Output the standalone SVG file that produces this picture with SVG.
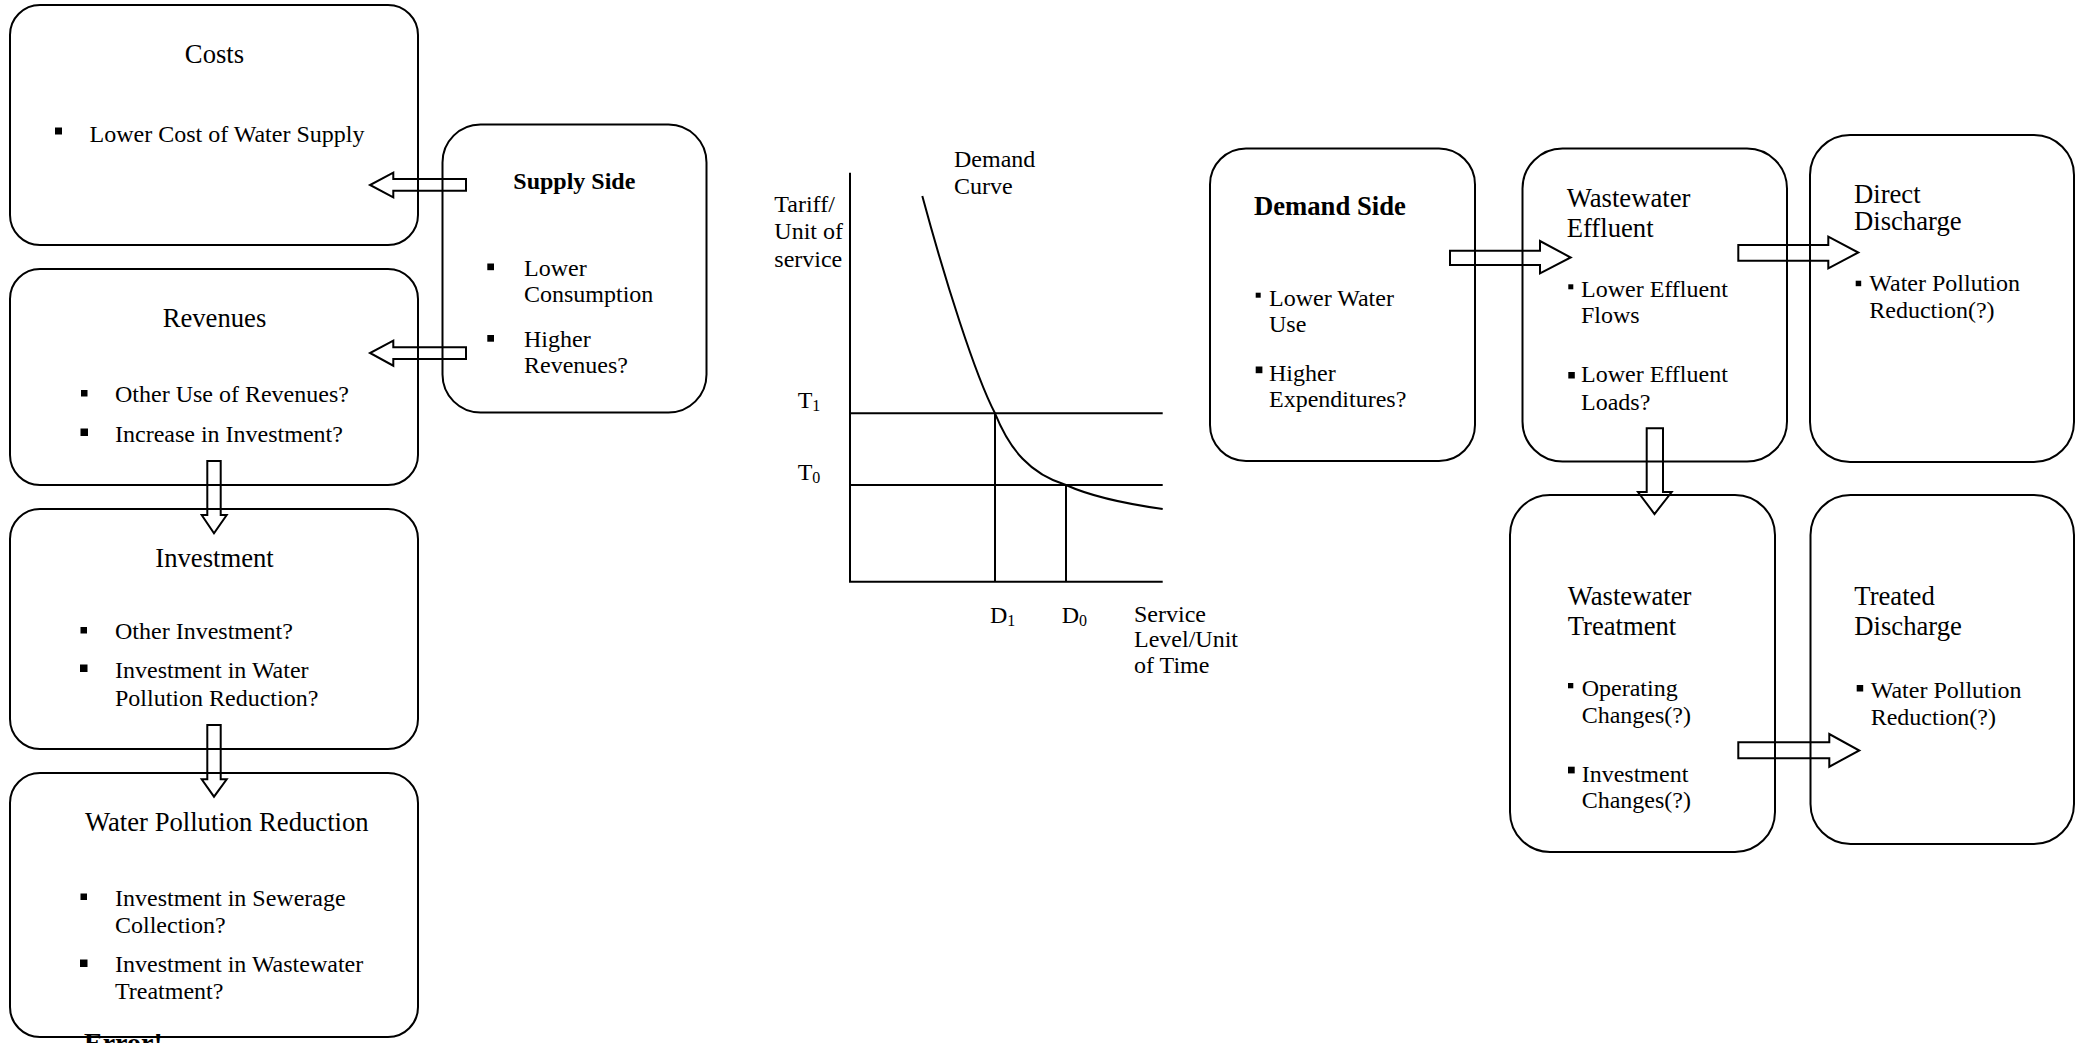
<svg xmlns="http://www.w3.org/2000/svg" width="2083" height="1043" viewBox="0 0 2083 1043">
<style>
.box{fill:none;stroke:#000;stroke-width:2}
.arr{fill:#fff;stroke:#000;stroke-width:2;stroke-linejoin:miter}
.ln{fill:none;stroke:#000;stroke-width:2}
text{font-family:"Liberation Serif","Times New Roman",serif;font-size:24px;fill:#000}
.ti{font-size:26.67px}
.bd{font-weight:bold}
.mid{text-anchor:middle}
.sub{font-size:16px}
</style>
<rect width="2083" height="1043" fill="#fff"/>
<g id="connectors">
<polygon class="arr" points="466,179 393.3,179 393.3,172.7 370,185 393.3,197.3 393.3,190.7 466,190.7"/>
<polygon class="arr" points="466,347.3 393.3,347.3 393.3,340.7 370,353 393.3,365.7 393.3,359 466,359"/>
<polygon class="arr" points="207.3,461 220.7,461 220.7,515 226.7,515 214,533.3 201.7,515 207.3,515"/>
<polygon class="arr" points="207.3,725 220.7,725 220.7,779.3 226.7,779.3 214,796.7 201.7,779.3 207.3,779.3"/>
<polygon class="arr" points="1450,250.7 1540,250.7 1540,241 1570.7,257.5 1540,273.3 1540,265 1450,265"/>
<polygon class="arr" points="1738.3,245 1828.3,245 1828.3,236.7 1858.3,252.5 1828.3,268.3 1828.3,260.7 1738.3,260.7"/>
<polygon class="arr" points="1646.7,428.3 1663,428.3 1663,492 1671.7,492 1654.5,514 1638,492 1646.7,492"/>
<polygon class="arr" points="1738.3,742.3 1829.3,742.3 1829.3,734 1859.3,750.5 1829.3,766.7 1829.3,758.3 1738.3,758.3"/>
</g>
<g id="costs">
<rect class="box" x="10" y="5" width="408" height="240" rx="30"/>
<text class="ti mid" x="214.5" y="62.7">Costs</text>
<rect x="55" y="127.5" width="7" height="7"/>
<text x="89.5" y="141.7">Lower Cost of Water Supply</text>
</g>
<g id="revenues">
<rect class="box" x="10" y="269" width="408" height="216" rx="30"/>
<text class="ti mid" x="214.5" y="326.7">Revenues</text>
<rect x="81" y="390" width="6.5" height="6.5"/>
<text x="115" y="401.7">Other Use of Revenues?</text>
<rect x="80.5" y="428.5" width="7.5" height="7.5"/>
<text x="115" y="441.7">Increase in Investment?</text>
</g>
<g id="investment">
<rect class="box" x="10" y="509" width="408" height="240" rx="30"/>
<text class="ti mid" x="214.5" y="566.7">Investment</text>
<rect x="80.5" y="627" width="6.5" height="6.5"/>
<text x="115" y="639">Other Investment?</text>
<rect x="80" y="664.5" width="7.5" height="7.5"/>
<text x="115" y="678.3">Investment in Water</text>
<text x="115" y="705.7">Pollution Reduction?</text>
</g>
<g id="water-pollution-reduction">
<rect class="box" x="10" y="773" width="408" height="264" rx="30"/>
<text class="ti" x="85" y="830.7">Water Pollution Reduction</text>
<rect x="80.5" y="893.5" width="6.5" height="6.5"/>
<text x="115" y="906">Investment in Sewerage</text>
<text x="115" y="933.3">Collection?</text>
<rect x="80" y="959.5" width="7.5" height="7.5"/>
<text x="115" y="971.7">Investment in Wastewater</text>
<text x="115" y="999.3">Treatment?</text>
<text class="bd" x="84" y="1052" style="font-size:28px">Error!</text>
</g>
<g id="supply-side">
<rect class="box" x="442.5" y="124.5" width="264" height="288" rx="38"/>
<text class="bd" x="513.3" y="189.3">Supply Side</text>
<rect x="487.3" y="263.5" width="6.7" height="6.7"/>
<text x="524" y="276">Lower</text>
<text x="524" y="302.3">Consumption</text>
<rect x="487.3" y="335" width="6.7" height="6.7"/>
<text x="524" y="346.7">Higher</text>
<text x="524" y="373.3">Revenues?</text>
</g>
<g id="demand-chart">
<line class="ln" x1="850" y1="172.7" x2="850" y2="581.7"/>
<line class="ln" x1="849" y1="581.7" x2="1162.7" y2="581.7"/>
<line class="ln" x1="850" y1="413.3" x2="1162.7" y2="413.3"/>
<line class="ln" x1="850" y1="485" x2="1162.7" y2="485"/>
<line class="ln" x1="995" y1="413.3" x2="995" y2="581.7"/>
<line class="ln" x1="1066" y1="485" x2="1066" y2="581.7"/>
<path class="ln" d="M922.3,196 C945,280 975,375 995,413.3 C1010,450 1030,474 1066,485 C1090,496 1120,503 1162.7,509"/>
<text x="954" y="166.7">Demand</text>
<text x="954" y="194.3">Curve</text>
<text x="774.3" y="212.3">Tariff/</text>
<text x="774.3" y="239.3">Unit of</text>
<text x="774.3" y="266.7">service</text>
<text x="797.7" y="407.7">T<tspan class="sub" dy="3">1</tspan></text>
<text x="797.7" y="480">T<tspan class="sub" dy="3">0</tspan></text>
<text x="990" y="623.3">D<tspan class="sub" dy="3">1</tspan></text>
<text x="1061.7" y="623.3">D<tspan class="sub" dy="3">0</tspan></text>
<text x="1134" y="621.7">Service</text>
<text x="1134" y="646.7">Level/Unit</text>
<text x="1134" y="673">of Time</text>
</g>
<g id="demand-side">
<rect class="box" x="1210" y="148.5" width="265" height="312.5" rx="36"/>
<text class="ti bd" x="1254" y="215">Demand Side</text>
<rect x="1255.7" y="292.7" width="5" height="5"/>
<text x="1269" y="306">Lower Water</text>
<text x="1269" y="332">Use</text>
<rect x="1255.7" y="366.5" width="6.7" height="6.7"/>
<text x="1269" y="380.5">Higher</text>
<text x="1269" y="406.7">Expenditures?</text>
</g>
<g id="wastewater-effluent">
<rect class="box" x="1522.5" y="148.5" width="264.5" height="313" rx="40"/>
<text class="ti" x="1566.7" y="206.7">Wastewater</text>
<text class="ti" x="1566.7" y="236.7">Effluent</text>
<rect x="1568.3" y="284.3" width="5" height="5"/>
<text x="1581" y="296.5">Lower Effluent</text>
<text x="1581" y="323.3">Flows</text>
<rect x="1568.3" y="372" width="6.5" height="6.5"/>
<text x="1581" y="382.3">Lower Effluent</text>
<text x="1581" y="410">Loads?</text>
</g>
<g id="direct-discharge">
<rect class="box" x="1810" y="135" width="264" height="327" rx="40"/>
<text class="ti" x="1854" y="202.7">Direct</text>
<text class="ti" x="1854" y="230">Discharge</text>
<rect x="1855.7" y="280.7" width="5.5" height="5.5"/>
<text x="1869.3" y="290.7">Water Pollution</text>
<text x="1869.3" y="318.3">Reduction(?)</text>
</g>
<g id="wastewater-treatment">
<rect class="box" x="1510" y="495" width="265" height="357" rx="40"/>
<text class="ti" x="1567.7" y="605">Wastewater</text>
<text class="ti" x="1567.7" y="635">Treatment</text>
<rect x="1568" y="683" width="5.3" height="5.3"/>
<text x="1581.7" y="696">Operating</text>
<text x="1581.7" y="723.3">Changes(?)</text>
<rect x="1568" y="766.7" width="6.7" height="6.7"/>
<text x="1581.7" y="781.7">Investment</text>
<text x="1581.7" y="808.3">Changes(?)</text>
</g>
<g id="treated-discharge">
<rect class="box" x="1810.5" y="495" width="263.5" height="349" rx="40"/>
<text class="ti" x="1854.3" y="605">Treated</text>
<text class="ti" x="1854.3" y="635">Discharge</text>
<rect x="1856.7" y="685" width="6.5" height="6.5"/>
<text x="1870.7" y="697.7">Water Pollution</text>
<text x="1870.7" y="725">Reduction(?)</text>
</g>
</svg>
